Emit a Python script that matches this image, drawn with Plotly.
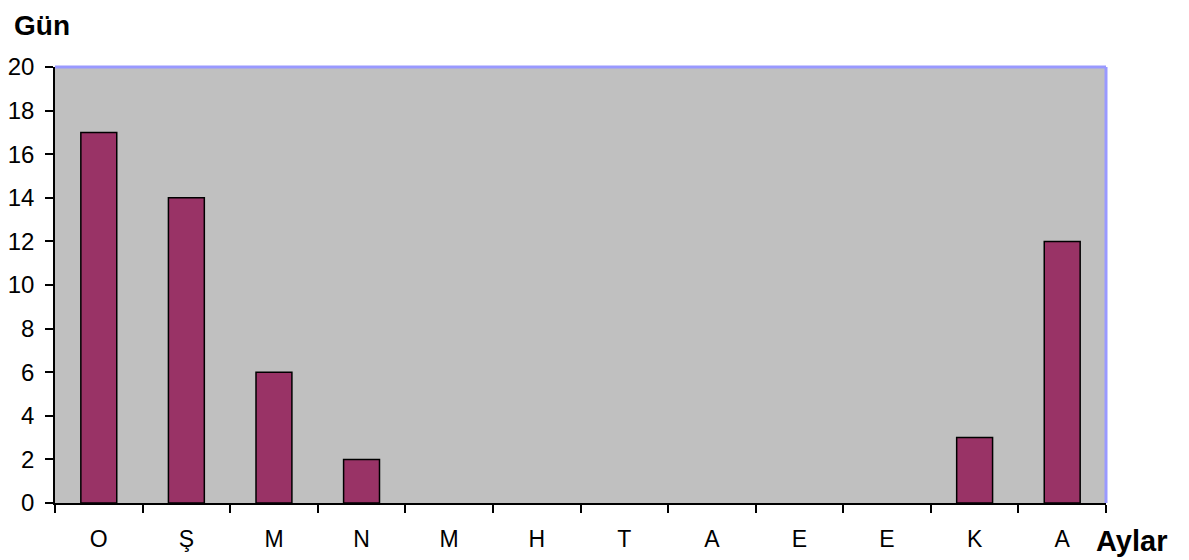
import plotly.graph_objects as go

months = ["O", "Ş", "M", "N", "M", "H", "T", "A", "E", "E", "K", "A"]
days = [17, 14, 6, 2, 0, 0, 0, 0, 0, 0, 3, 12]
y_ticks = [0, 2, 4, 6, 8, 10, 12, 14, 16, 18, 20]

xpos = list(range(len(months)))

fig = go.Figure()
fig.add_trace(go.Bar(
    x=xpos, y=days,
    marker=dict(color="#993366",
                line=dict(color="black", width=[1.5 if d > 0 else 0 for d in days])),
    width=0.41,
))

font = "Liberation Sans, Arial, sans-serif"
fig.update_layout(
    width=1181, height=552,
    margin=dict(l=47, r=83, t=59, b=57, autoexpand=False),
    paper_bgcolor="white",
    plot_bgcolor="#C0C0C0",
    showlegend=False,
    font=dict(family=font, size=23, color="black"),
    xaxis=dict(
        automargin=False,
        range=[-0.5, len(months) - 0.5],
        tickvals=xpos, ticktext=months,
        ticks="outside", ticklen=15, tickcolor="rgba(0,0,0,0)",
        showgrid=False, zeroline=False,
        showline=True, linecolor="black", linewidth=1.5,
        minor=dict(tickvals=[i - 0.5 for i in range(len(months) + 1)],
                   ticks="outside", ticklen=8, tickcolor="black", tickwidth=1.5,
                   showgrid=False),
        tickfont=dict(size=23),
    ),
    yaxis=dict(
        automargin=False,
        range=[0, 20],
        tickvals=y_ticks,
        ticks="outside", ticklen=8, tickcolor="black", tickwidth=1.5,
        ticklabelstandoff=6,
        showgrid=False, zeroline=False,
        showline=True, linecolor="black", linewidth=1.5,
        tickfont=dict(size=24),
    ),
    shapes=[
        dict(type="line", xref="paper", yref="paper", x0=0, x1=1, y0=1, y1=1,
             line=dict(color="#9999FF", width=3)),
        dict(type="line", xref="paper", yref="paper", x0=1, x1=1, y0=0, y1=1,
             line=dict(color="#9999FF", width=3)),
    ],
    annotations=[
        dict(text="<b>Gün</b>", xref="paper", yref="paper", x=-0.041, y=1.135,
             xanchor="left", yanchor="top", showarrow=False,
             font=dict(size=28, family=font)),
        dict(text="<b>Aylar</b>", xref="paper", yref="paper", x=0.9886, y=-0.087,
             xanchor="left", yanchor="middle", showarrow=False,
             font=dict(size=29, family=font)),
    ],
)

fig.write_html("out.html")
